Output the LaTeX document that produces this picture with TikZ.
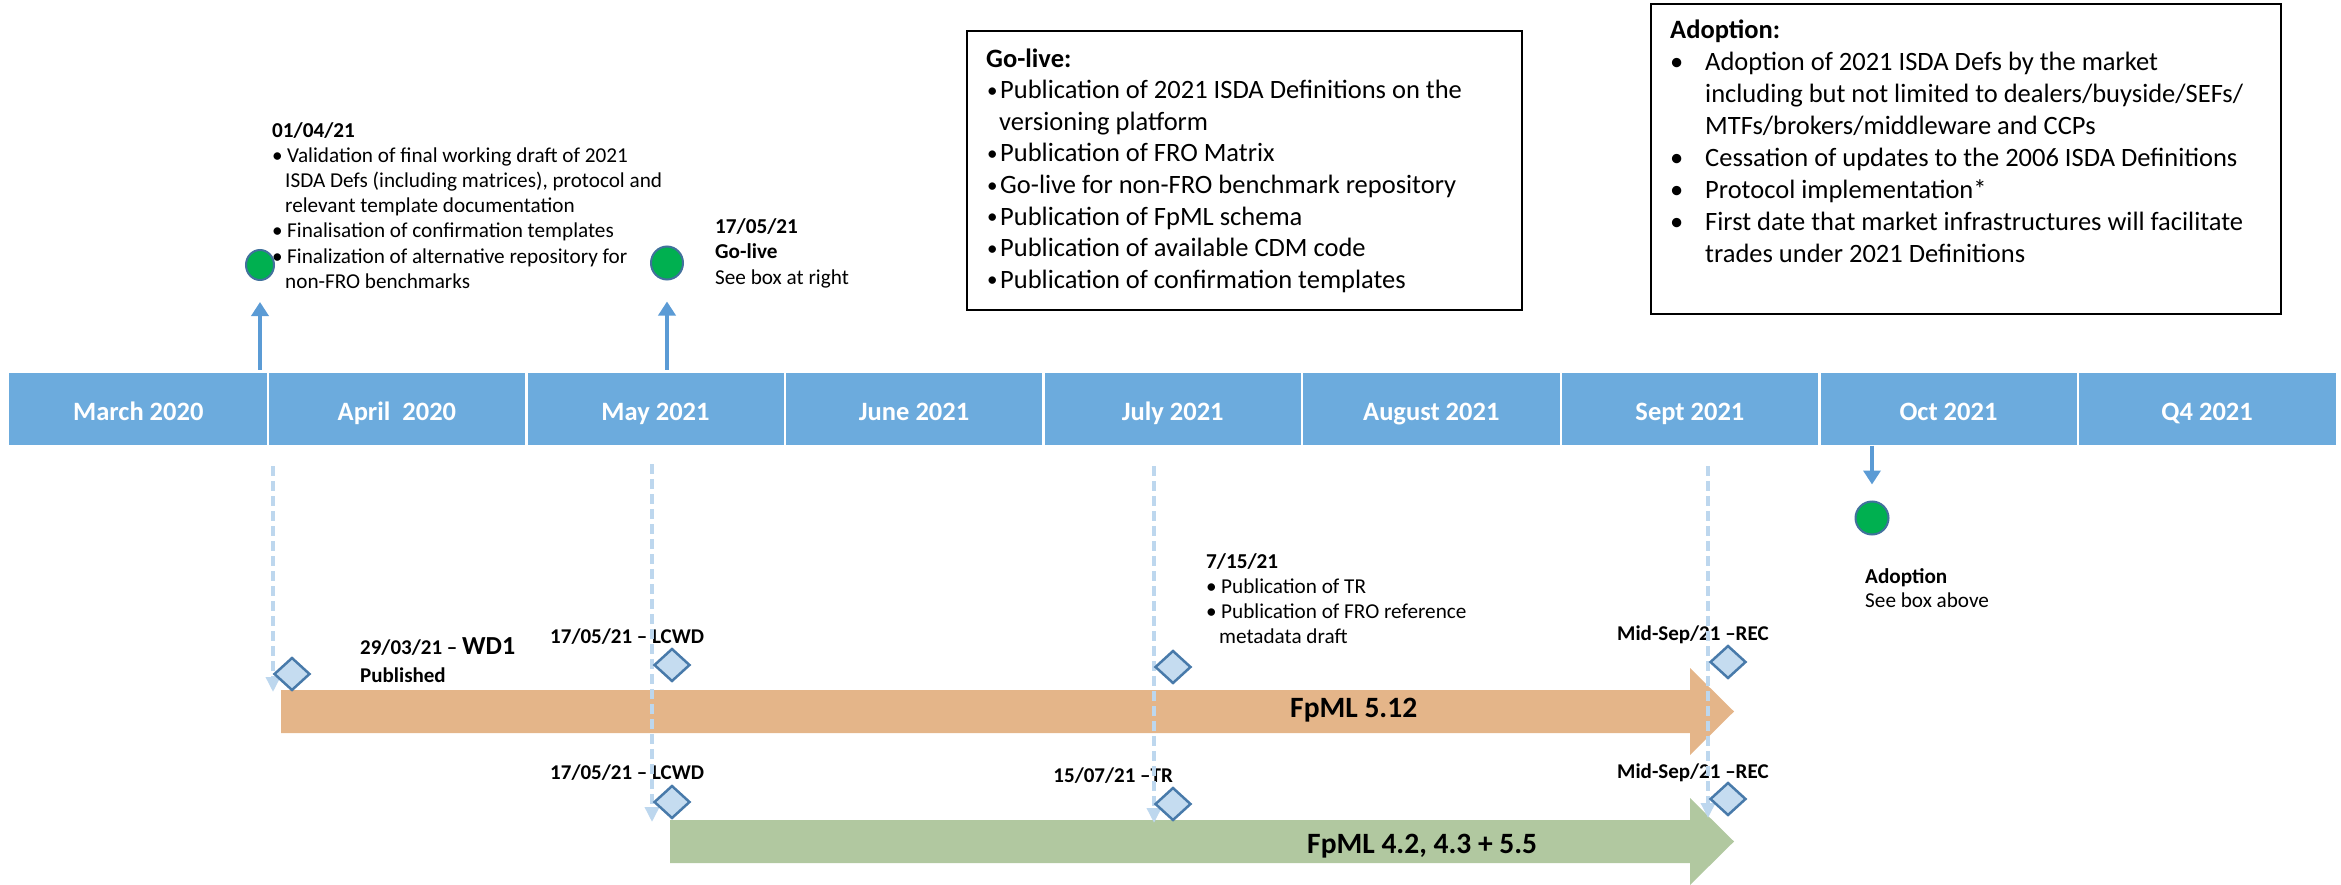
\documentclass[tikz,border=0pt]{standalone}
\usepackage{fontspec}
\setmainfont{Carlito}
\usetikzlibrary{shapes.geometric,arrows.meta}
\definecolor{barblue}{RGB}{108,171,221}
\definecolor{arrowblue}{RGB}{91,155,213}
\definecolor{dashblue}{RGB}{189,215,238}
\definecolor{diafill}{RGB}{197,220,240}
\definecolor{diastroke}{RGB}{72,122,170}
\definecolor{dotgreen}{RGB}{0,176,80}
\definecolor{dotstroke}{RGB}{65,113,156}
\definecolor{orangebar}{RGB}{228,181,137}
\definecolor{greenbar}{RGB}{177,200,160}
\newcommand\bulit[2]{\makebox[#1pt][l]{•}#2}
\newcommand\smbul[1]{\makebox[14pt][l]{\hspace{1pt}\raisebox{1.5pt}{\fontsize{21}{21}\selectfont •}}#1}
\begin{document}
\begin{tikzpicture}[x=1pt,y=-1pt,
  month/.style={fill=barblue, minimum width=258.6pt, minimum height=72.5pt, inner sep=0pt, text=white,
    font=\fontsize{26.5}{30}\selectfont\bfseries, text height=22pt, text depth=0pt},
  txt/.style={inner sep=0pt, align=left, anchor=north west},
  lbl/.style={inner sep=0pt, anchor=base west, font=\fontsize{21}{25}\selectfont\bfseries},
  boxframe/.style={draw=black, line width=2pt, inner sep=0pt, anchor=north west},
  gdot/.style={ellipse, fill=dotgreen, draw=dotstroke, line width=2pt, inner sep=0pt},
  dia/.style={diamond, draw=diastroke, fill=diafill, line width=2.5pt, minimum width=36pt, minimum height=33pt, inner sep=0pt},
  uparrow/.style={draw=arrowblue, line width=3.5pt, -{Triangle[width=17pt,length=14pt]}},
  dasharrow/.style={draw=dashblue, line width=3.5pt, dash pattern=on 10pt off 5pt, -{Triangle[width=14pt,length=15pt]}},
  fpml/.style={inner sep=0pt, anchor=base west, font=\fontsize{29.5}{34}\selectfont\bfseries}
]
\useasboundingbox (0,0) rectangle (2341,885);

% month bar
\foreach \i/\t in {1/March 2020, 2/April\ \ 2020, 3/May 2021, 4/June 2021, 5/July 2021, 6/August 2021, 7/Sept 2021, 8/Oct 2021, 9/Q4 2021}
  \node[month] (m\i) at ({9+258.6*(\i-0.5)},409.2) {\t};
\foreach \i in {1,...,8}
  \draw[white, line width=2.5pt] (m\i.north east) -- (m\i.south east);

% boxes
\node[boxframe, minimum width=555pt, minimum height=279pt] (goliveBox) at (966,30) {};
\node[txt, font=\fontsize{26.5}{31.6}\selectfont] (goliveText) at (986,45) {\rule{0pt}{22pt}\textbf{Go-live:}\\
\smbul{Publication of 2021 ISDA Definitions on the}\\
\hspace*{13pt}versioning platform\\
\smbul{Publication of FRO Matrix}\\
\smbul{Go-live for non-FRO benchmark repository}\\
\smbul{Publication of FpML schema}\\
\smbul{Publication of available CDM code}\\
\smbul{Publication of confirmation templates}};

\node[boxframe, minimum width=630pt, minimum height=310pt] (adoptBox) at (1650,3) {};
\node[txt, font=\fontsize{26.5}{32}\selectfont] (adoptText) at (1670,16) {\rule{0pt}{22pt}\textbf{Adoption:}\\
\bulit{35}{Adoption of 2021 ISDA Defs by the market}\\
\hspace*{35pt}including but not limited to dealers/buyside/SEFs/\\
\hspace*{35pt}MTFs/brokers/middleware and CCPs\\
\bulit{35}{Cessation of updates to the 2006 ISDA Definitions}\\
\bulit{35}{Protocol implementation*}\\
\bulit{35}{First date that market infrastructures will facilitate}\\
\hspace*{35pt}trades under 2021 Definitions};

% milestone texts
\node[txt, font=\fontsize{21.2}{25.2}\selectfont] (t0104) at (272,119) {\rule{0pt}{18pt}\textbf{01/04/21}\\
\bulit{15}{Validation of final working draft of 2021}\\
\hspace*{13pt}ISDA Defs (including matrices), protocol and\\
\hspace*{13pt}relevant template documentation\\
\bulit{15}{Finalisation of confirmation templates}\\
\bulit{15}{Finalization of alternative repository for}\\
\hspace*{13pt}non-FRO benchmarks};

\node[txt, font=\fontsize{21.2}{25.5}\selectfont] (t1705) at (715,215) {\rule{0pt}{18pt}\textbf{17/05/21}\\
\textbf{Go-live}\\
See box at right};

\node[txt, font=\fontsize{21.2}{25}\selectfont] (t0715) at (1206,550) {\rule{0pt}{18pt}\textbf{7/15/21}\\
\bulit{15}{Publication of TR}\\
\bulit{15}{Publication of FRO reference}\\
\hspace*{13pt}metadata draft};

\node[txt, font=\fontsize{21.2}{24}\selectfont] (tadopt) at (1865,565) {\rule{0pt}{18pt}\textbf{Adoption}\\
See box above};

% circles and arrows
\node[gdot, minimum width=28pt, minimum height=30pt] (c1) at (260,265) {};
\node[gdot, minimum width=32pt, minimum height=33pt] (c2) at (667,263) {};
\node[gdot, minimum width=33pt, minimum height=33pt] (c3) at (1872,518) {};
\draw[uparrow, shorten <=3pt, shorten >=21pt] (m1.north -| c1.south) -- (c1.south);
\draw[uparrow, shorten <=3pt, shorten >=21pt] (m3.north -| c2.south) -- (c2.south);
\draw[uparrow, shorten >=16pt] (m8.south -| c3.north) -- (c3.north);

% FpML arrows
\fill[orangebar] (281,690) -- (1690,690) -- (1690,668) -- (1734,711.5) -- (1690,755) -- (1690,733) -- (281,733) -- cycle;
\fill[greenbar] (670,820) -- (1690,820) -- (1690,798) -- (1734,841.5) -- (1690,885) -- (1690,863) -- (670,863) -- cycle;
\node[fpml] (fpml512) at (1290,717) {FpML 5.12};
\node[fpml] (fpml4) at (1307,853) {FpML 4.2, 4.3 + 5.5};

% milestone labels
\node[lbl] (l2903) at (360,654) {29/03/21 – {\fontsize{26}{30}\selectfont WD1}};
\node[lbl] (lpub) at (360,682) {Published};
\node[lbl] (l1705a) at (550,643) {17/05/21 – LCWD};
\node[lbl] (l1705b) at (550,779) {17/05/21 – LCWD};
\node[lbl, anchor=base east] (l1507) at (1173,782) {15/07/21 –TR};
\node[lbl] (lmida) at (1617,640) {Mid-Sep/21 –REC};
\node[lbl] (lmidb) at (1617,778) {Mid-Sep/21 –REC};

% dashed guide arrows
\coordinate (d1s) at (273,466); \coordinate (d1e) at (273,692);
\coordinate (d2s) at (652,464); \coordinate (d2e) at (652,822);
\coordinate (d3s) at (1154,466); \coordinate (d3e) at (1154,823);
\coordinate (d4s) at (1708,466); \coordinate (d4e) at (1708,818);
\draw[dasharrow] (d1s) -- (d1e);
\draw[dasharrow] (d2s) -- (d2e);
\draw[dasharrow] (d3s) -- (d3e);
\draw[dasharrow] (d4s) -- (d4e);

% diamonds
\node[dia] (D1) at (292,674) {};
\node[dia] (D2) at (672,665) {};
\node[dia] (D2b) at (672,802) {};
\node[dia] (D3) at (1173,667) {};
\node[dia] (D3b) at (1173,804) {};
\node[dia] (D4) at (1728,662) {};
\node[dia] (D4b) at (1728,799) {};
\end{tikzpicture}
\end{document}
